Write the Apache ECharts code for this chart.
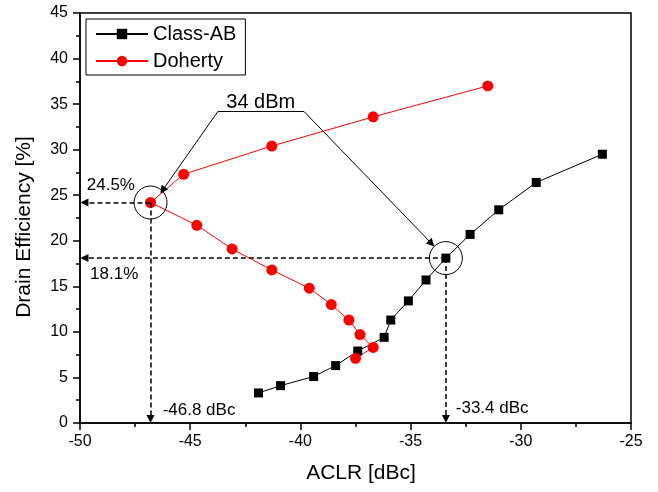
<!DOCTYPE html>
<html>
<head>
<meta charset="utf-8">
<title>Drain Efficiency vs ACLR</title>
<script src="https://cdn.jsdelivr.net/npm/echarts@6/dist/echarts.min.js"></script>
<style>
  html, body { margin: 0; padding: 0; background: #fff; }
  #main { width: 658px; height: 492px; }
</style>
</head>
<body>
<div id="main"></div>
<script>
// values
const aclrClassAB = [-41.9, -40.9, -39.4, -38.4, -37.4, -36.2, -35.9, -35.1, -34.3, -33.4, -32.3, -31.0, -29.3, -26.3]
const effClassAB = [3.3, 4.1, 5.1, 6.3, 7.9, 9.4, 11.3, 13.4, 15.7, 18.1, 20.7, 23.4, 26.4, 29.5]
const aclrDoherty = [-37.5, -36.7, -37.3, -37.8, -38.6, -39.6, -41.3, -43.1, -44.7, -46.8, -45.3, -41.3, -36.7, -31.5]
const effDoherty = [7.1, 8.3, 9.7, 11.3, 13.0, 14.8, 16.8, 19.1, 21.7, 24.2, 27.3, 30.4, 33.6, 37.0]

// the two points picked out at 34 dBm output power
const pointDoherty = [-46.8, 24.2]
const pointClassAB = [-33.4, 18.1]
const effLabels = ['24.5%', '18.1%']
const aclrLabels = ['-46.8 dBc', '-33.4 dBc']
const powerLabel = '34 dBm'

const font = 'Liberation Sans, Arial, sans-serif'

function zip(xs, ys) {
  return xs.map(function(x, i) { return [x, ys[i]] })
}

const dashed = { color: '#000', width: 1.5, type: [5, 3] }
const thin = { color: '#000', width: 1, type: 'solid' }

function arrow(from, to, style) {
  return [
    { coord: from, symbol: 'none', lineStyle: style },
    { coord: to, symbol: 'triangle', symbolSize: 8, lineStyle: style }
  ]
}

var chart = echarts.init(document.getElementById('main'))
chart.setOption({
  animation: false,
  textStyle: { fontFamily: font, color: '#000' },
  grid: {
    left: 80,
    right: 27,
    top: 13,
    bottom: 69,
    show: true,
    borderColor: '#000',
    borderWidth: 1.5
  },
  legend: {
    data: ['Class-AB', 'Doherty'],
    orient: 'vertical',
    left: 86,
    top: 19,
    padding: [5, 9, 4, 9],
    itemGap: 7,
    itemWidth: 52,
    itemHeight: 13,
    borderColor: '#000',
    borderWidth: 1,
    backgroundColor: '#fff',
    textStyle: { fontFamily: font, fontSize: 20, color: '#000' }
  },
  xAxis: {
    type: 'value',
    min: -50,
    max: -25,
    interval: 5,
    name: 'ACLR [dBc]',
    nameLocation: 'middle',
    nameGap: 40,
    nameTextStyle: { fontFamily: font, fontSize: 21, color: '#000', padding: [0, 0, 0, 11] },
    axisLine: { onZero: false, lineStyle: { color: '#000', width: 1.5 } },
    axisTick: { length: 7, lineStyle: { color: '#000', width: 1.5 } },
    minorTick: { show: true, splitNumber: 2, length: 4, lineStyle: { color: '#000', width: 1.5 } },
    axisLabel: { margin: 11, fontFamily: font, fontSize: 16, color: '#000' },
    splitLine: { show: false }
  },
  yAxis: {
    type: 'value',
    min: 0,
    max: 45,
    interval: 5,
    name: 'Drain Efficiency [%]',
    nameLocation: 'middle',
    nameGap: 45,
    nameTextStyle: { fontFamily: font, fontSize: 21, color: '#000', padding: [0, 18, 0, 0] },
    axisLine: { onZero: false, lineStyle: { color: '#000', width: 1.5 } },
    axisTick: { length: 7, lineStyle: { color: '#000', width: 1.5 } },
    minorTick: { show: true, splitNumber: 2, length: 4, lineStyle: { color: '#000', width: 1.5 } },
    axisLabel: { margin: 12, fontFamily: font, fontSize: 16, color: '#000' },
    splitLine: { show: false }
  },
  series: [
    {
      name: 'Class-AB',
      type: 'line',
      data: zip(aclrClassAB, effClassAB),
      symbol: 'rect',
      symbolSize: 9,
      itemStyle: { color: '#000' },
      lineStyle: { color: '#000', width: 1 },
      z: 3
    },
    {
      name: 'Doherty',
      type: 'line',
      data: zip(aclrDoherty, effDoherty),
      symbol: 'circle',
      symbolSize: 11,
      itemStyle: { color: '#ff0000' },
      lineStyle: { color: '#ff0000', width: 1 },
      z: 3
    },
    {
      // circles round the marked points, plus the arrows
      name: 'marks',
      type: 'scatter',
      data: [pointDoherty, pointClassAB],
      symbol: 'circle',
      symbolSize: 33,
      silent: true,
      itemStyle: { color: 'rgba(0,0,0,0)', borderColor: '#000', borderWidth: 1, opacity: 1 },
      z: 4,
      markLine: {
        silent: true,
        animation: false,
        label: { show: false },
        emphasis: { disabled: true },
        data: [
          arrow(pointDoherty, [-49.8, pointDoherty[1]], dashed),
          arrow(pointDoherty, [pointDoherty[0], 0.45], dashed),
          arrow(pointClassAB, [-49.8, pointClassAB[1]], dashed),
          arrow(pointClassAB, [pointClassAB[0], 0.45], dashed),
          [
            { coord: [-43.74, 34.2], symbol: 'none', lineStyle: thin },
            { coord: [-39.84, 34.2], symbol: 'none', lineStyle: thin }
          ],
          arrow([-43.74, 34.2], [-46.25, 25.55], thin),
          arrow([-39.84, 34.2], [-34.05, 19.7], thin)
        ]
      }
    },
    {
      name: 'labels',
      type: 'scatter',
      symbolSize: 0,
      silent: true,
      itemStyle: { opacity: 1 },
      data: [
        [-48.6, 26.1, effLabels[0], 17],
        [-48.45, 16.35, effLabels[1], 17],
        [-44.6, 1.4, aclrLabels[0], 17],
        [-31.3, 1.6, aclrLabels[1], 17],
        [-41.8, 35.2, powerLabel, 20]
      ].map(function(d) {
        return {
          value: [d[0], d[1]],
          label: {
            show: true,
            position: 'inside',
            formatter: d[2],
            fontSize: d[3],
            fontFamily: font,
            color: '#000'
          }
        }
      }),
      z: 5
    }
  ]
})
</script>
</body>
</html>
